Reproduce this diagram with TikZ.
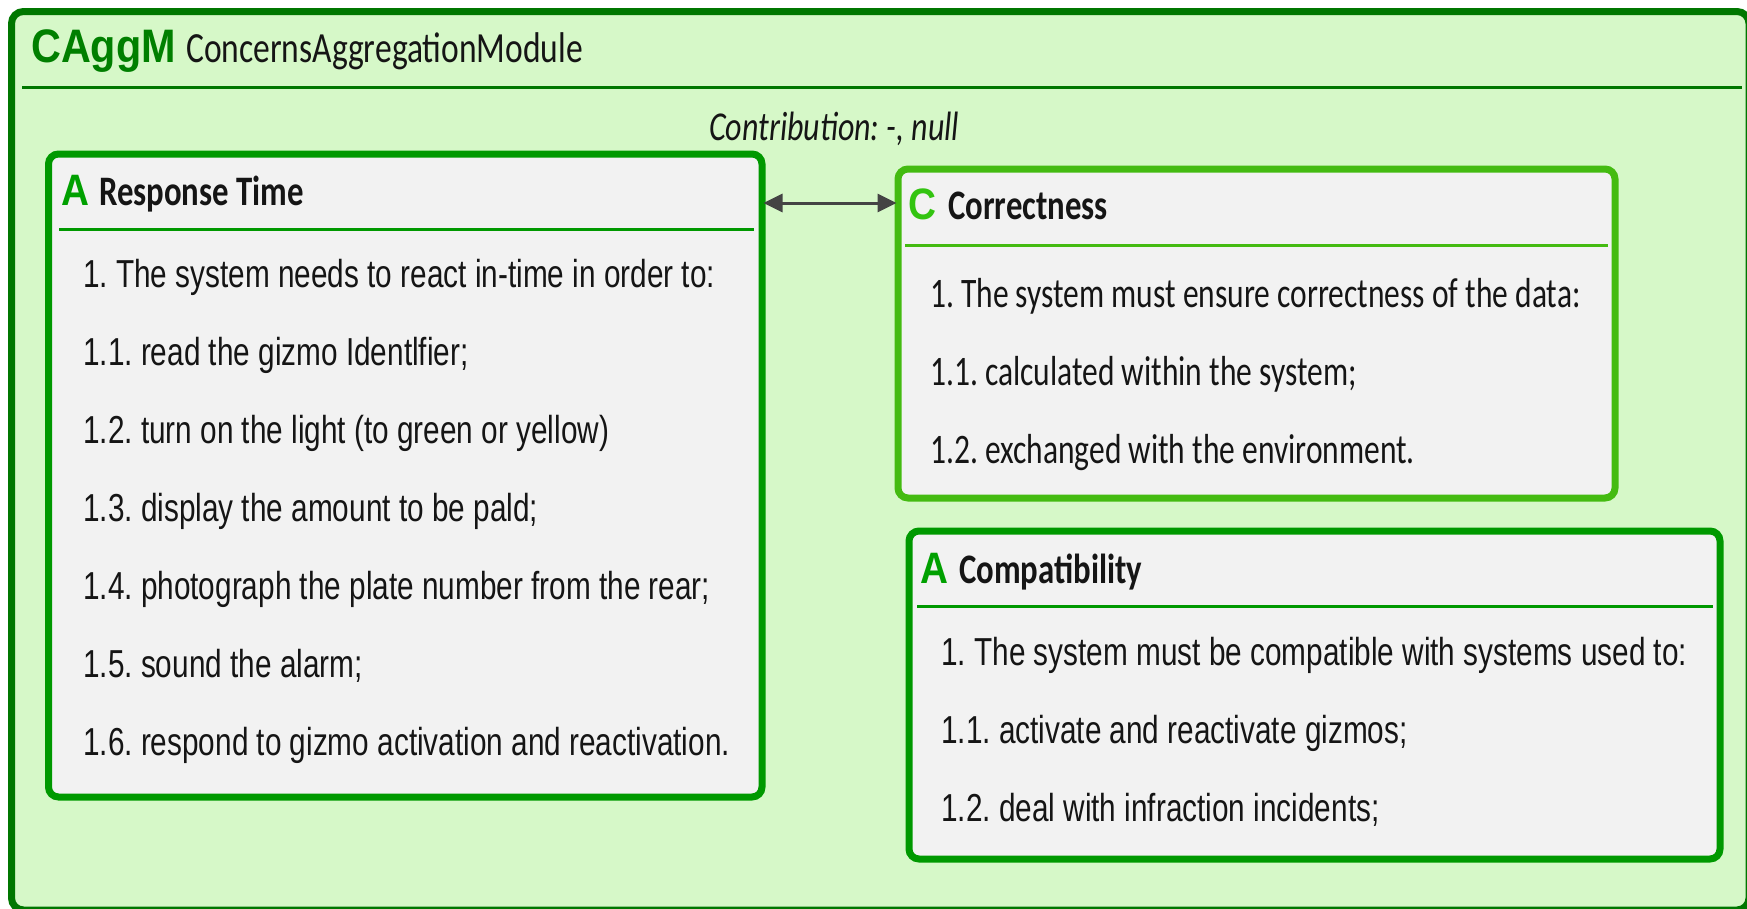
\documentclass[tikz,border=0pt]{standalone}
\usepackage{fontspec}
\usetikzlibrary{arrows.meta}
\frenchspacing
\newfontfamily\bodyfont[FakeStretch=0.763]{Liberation Sans}
\newfontfamily\corrfont[FakeStretch=0.75]{Carlito}
\newfontfamily\titlefont[FakeStretch=0.78]{Carlito}
\newfontfamily\tagfont[FakeStretch=0.88]{Liberation Sans}
\definecolor{outerfill}{HTML}{D6F8C8}
\definecolor{outerc}{HTML}{007700}
\definecolor{innerfill}{HTML}{F2F2F2}
\definecolor{boxc}{HTML}{009900}
\definecolor{corrc}{HTML}{44BB11}
\definecolor{tagA}{HTML}{00A000}
\definecolor{tagC}{HTML}{33C411}
\definecolor{tagM}{HTML}{007F00}
\definecolor{txtc}{HTML}{151515}
\definecolor{arrc}{HTML}{444444}
\tikzset{
  outerbox/.style={draw=outerc, line width=7pt, fill=outerfill, rounded corners=12pt, anchor=north west, inner sep=0pt, outer sep=0pt},
  rbox/.style={draw=boxc, line width=7pt, fill=innerfill, rounded corners=10pt, anchor=north west, inner sep=0pt, outer sep=0pt},
  cbox/.style={rbox, draw=corrc},
  hsep/.style={draw=outerc, line width=3pt},
  rsep/.style={draw=boxc, line width=3pt},
  csep/.style={draw=corrc, line width=3pt},
  bodytxt/.style={anchor=base west, inner sep=0pt, text=txtc, font=\bodyfont\fontsize{39pt}{39pt}\selectfont},
  corrtxt/.style={anchor=base west, inner sep=0pt, text=txtc, font=\corrfont\fontsize{42pt}{42pt}\selectfont},
  titletxt/.style={anchor=base west, inner sep=0pt, text=txtc, font=\titlefont\bfseries\fontsize{42pt}{42pt}\selectfont},
  tagtxt/.style={anchor=base west, inner sep=0pt, font=\tagfont\bfseries\fontsize{44pt}{44pt}\selectfont},
  conn/.style={draw=arrc, line width=3pt, {Triangle[length=19pt,width=18pt]}-{Triangle[length=19pt,width=18pt]}},
}
\begin{document}
\begin{tikzpicture}[x=1pt,y=-1pt]
\useasboundingbox (0,0) rectangle (1747,908);
% module
\node[outerbox, minimum width=1737.5pt, minimum height=898.5pt] (module) at (11.5,11.5) {};
\node[tagtxt, text=tagM, font=\tagfont\bfseries\fontsize{47pt}{47pt}\selectfont] (mtag) at (31,62) {CAggM};
\node[anchor=base west, inner sep=0pt, text=txtc, font=\titlefont\fontsize{43pt}{43pt}\selectfont] (mname) at (186,62) {ConcernsAggregationModule};
\draw[hsep] (22,87) -- (1742,87);
\node[anchor=base west, inner sep=0pt, text=txtc, font=\titlefont\itshape\fontsize{41pt}{41pt}\selectfont] (contrib) at (709,140) {Contribution: -, null};
% Response Time
\node[rbox, minimum width=713.5pt, minimum height=643pt] (resp) at (48.5,154) {};
\node[tagtxt, text=tagA] (respA) at (61,205) {A};
\node[titletxt] (respT) at (99,205) {Response Time};
\draw[rsep] (59,229) -- (754,229);
\node[bodytxt] (r1) at (83,287) {1. The system needs to react in-time in order to:};
\node[bodytxt] (r2) at (83,365) {1.1. read the gizmo Identlfier;};
\node[bodytxt] (r3) at (83,443) {1.2. turn on the light (to green or yellow)};
\node[bodytxt] (r4) at (83,521) {1.3. display the amount to be pald;};
\node[bodytxt] (r5) at (83,599) {1.4. photograph the plate number from the rear;};
\node[bodytxt] (r6) at (83,677) {1.5. sound the alarm;};
\node[bodytxt] (r7) at (83,755) {1.6. respond to gizmo activation and reactivation.};
% Correctness
\node[cbox, minimum width=717pt, minimum height=329pt] (corr) at (898,169) {};
\node[tagtxt, text=tagC] (corrC) at (908,219) {C};
\node[titletxt] (corrT) at (948,219) {Correctness};
\draw[csep] (905,245) -- (1608,245);
\node[corrtxt] (c1) at (930,307) {1. The system must ensure correctness of the data:};
\node[corrtxt] (c2) at (930,385) {1.1. calculated within the system;};
\node[corrtxt] (c3) at (930,463) {1.2. exchanged with the environment.};
% Compatibility
\node[rbox, minimum width=811pt, minimum height=328pt] (comp) at (909,531) {};
\node[tagtxt, text=tagA] (compA) at (920,583) {A};
\node[titletxt] (compT) at (959,583) {Compatibility};
\draw[rsep] (917,606) -- (1713,606);
\node[bodytxt] (p1) at (941,665) {1. The system must be compatible with systems used to:};
\node[bodytxt] (p2) at (941,743) {1.1. activate and reactivate gizmos;};
\node[bodytxt] (p3) at (941,821) {1.2. deal with infraction incidents;};
% connector
\coordinate (ay) at (0,203);
\draw[conn] ([xshift=1.5pt]resp.east |- ay) -- ([xshift=-1.5pt]corr.west |- ay);
\end{tikzpicture}
\end{document}
